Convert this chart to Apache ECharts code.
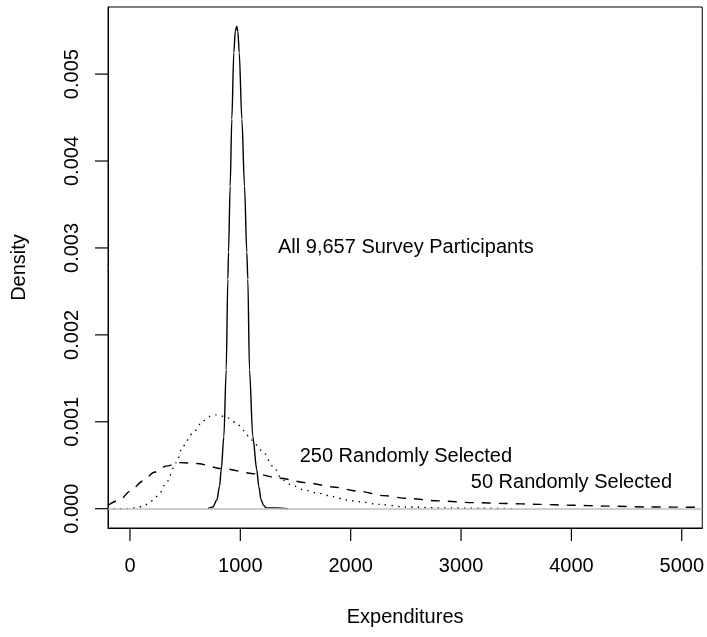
<!DOCTYPE html>
<html>
<head>
<meta charset="utf-8">
<script src="https://cdn.jsdelivr.net/npm/echarts@6/dist/echarts.min.js"></script>
<style>
  html, body { margin: 0; padding: 0; background: #fff; }
  #chart { width: 707px; height: 637px; }
</style>
</head>
<body>
<div id="chart"></div>
<script>
// x ticks / y ticks
var xTicks = [0, 1000, 2000, 3000, 4000, 5000];
var yTicks = [0, 0.001, 0.002, 0.003, 0.004, 0.005];

// density of all 9,657 participants (solid)
var allParticipants = [
  [706, 0], [751, 0.00002], [787, 0.0001], [812, 0.00026], [827, 0.00045],
  [851, 0.00083], [872, 0.0016], [887, 0.00264], [893, 0.00295], [908, 0.00371],
  [923, 0.00448], [941, 0.00525], [955, 0.0055], [968, 0.00555], [978, 0.00549],
  [990, 0.00525], [1014, 0.00448], [1038, 0.00371], [1059, 0.00295], [1068, 0.00264],
  [1083, 0.0016], [1113, 0.00083], [1149, 0.00045], [1167, 0.00026], [1189, 0.0001],
  [1210, 0.00004], [1234, 0.00001], [1330, 0.00001], [1430, 0]
];

// 250 randomly selected (dotted)
var sample250 = [
  [-150, 0], [-50, 0], [60, 0.00001], [120, 0.00003], [179, 0.00007],
  [230, 0.00013], [270, 0.00018], [329, 0.0003], [420, 0.00053], [480, 0.00072],
  [570, 0.00087], [661, 0.00101], [720, 0.00106], [782, 0.00108], [860, 0.00106],
  [963, 0.00099], [1030, 0.0009], [1099, 0.00079], [1204, 0.00066], [1294, 0.00049],
  [1385, 0.00033], [1470, 0.00027], [1566, 0.00022], [1700, 0.00018], [1837, 0.00014],
  [1958, 0.0001], [2079, 0.00008], [2250, 0.00005], [2500, 0.00002], [2800, 0.00001],
  [3200, 0.000005], [3500, 0]
];

// 50 randomly selected (dashed)
var sample50 = [
  [-199, 0.00004], [-93, 0.0001], [0, 0.0002], [118, 0.00032], [220, 0.00042],
  [329, 0.00049], [450, 0.00053], [601, 0.00052], [842, 0.00046], [1144, 0.0004],
  [1355, 0.00035], [1596, 0.0003], [1837, 0.00025], [2079, 0.0002], [2300, 0.00015],
  [2501, 0.00012], [2800, 0.00009], [3104, 0.00007], [3400, 0.00006], [3708, 0.00005],
  [4000, 0.00004], [4311, 0.00003], [4700, 0.00002], [5186, 0.000015]
];

// text labels placed in data coordinates
var annoText = ['All 9,657 Survey Participants', '250 Randomly Selected', '50 Randomly Selected'];
var annoX = [2500, 2500, 4000];
var annoY = [0.003, 0.0006, 0.0003];

var xMin = -199, xMax = 5186;
var yMin = -0.000222, yMax = 0.005772;
var tickLen = 13;

var font = 'Liberation Sans, Arial, Helvetica, sans-serif';

var myChart = echarts.init(document.getElementById('chart'));

function curve(name, data, type) {
  return {
    name: name,
    type: 'line',
    data: data,
    showSymbol: false,
    symbol: 'none',
    smooth: 0.3,
    smoothMonotone: 'x',
    lineStyle: { color: '#000', width: 1.4, type: type }
  };
}

// outward tick marks, placed through the axes' own scales
function tickSeries(data, vertical) {
  return {
    type: 'custom',
    clip: false,
    silent: true,
    data: data,
    encode: { x: 0, y: 1 },
    renderItem: function (params, api) {
      var p = api.coord([api.value(0), api.value(1)]);
      var shape = vertical
        ? { x1: p[0], y1: p[1], x2: p[0], y2: p[1] + tickLen }
        : { x1: p[0] - tickLen, y1: p[1], x2: p[0], y2: p[1] };
      return { type: 'line', shape: shape, style: { stroke: '#000', lineWidth: 1.2 } };
    }
  };
}

var xTickData = xTicks.map(function (t) { return [t, yMin]; });
var yTickData = yTicks.map(function (t) { return [xMin, t]; });

var annoData = [];
for (var i = 0; i < annoText.length; i++) {
  annoData.push({ value: [annoX[i], annoY[i]], label: { formatter: annoText[i] } });
}

var option = {
  animation: false,
  grid: { left: 108, top: 7, right: 4, bottom: 109, show: true, borderColor: '#000' },
  xAxis: {
    type: 'value',
    min: xMin, max: xMax,
    name: 'Expenditures',
    nameLocation: 'middle',
    nameGap: 79,
    nameTextStyle: { color: '#000', fontSize: 20, fontFamily: font },
    axisLine: { show: true, onZero: false, lineStyle: { color: '#000' } },
    splitLine: { show: false },
    axisTick: { show: false },
    axisLabel: {
      color: '#000', fontSize: 20, fontFamily: font, margin: 28, customValues: xTicks,
      formatter: function (v) { return String(v); }
    }
  },
  yAxis: {
    type: 'value',
    min: yMin, max: yMax,
    name: 'Density',
    nameLocation: 'middle',
    nameGap: 79,
    nameTextStyle: { color: '#000', fontSize: 20, fontFamily: font },
    axisLine: { show: true, onZero: false, lineStyle: { color: '#000' } },
    splitLine: { show: false },
    axisTick: { show: false },
    axisLabel: {
      color: '#000', fontSize: 20, fontFamily: font, margin: 26, rotate: 90,
      customValues: yTicks,
      formatter: function (v) { return v.toFixed(3); }
    }
  },
  series: [
    curve('All 9,657 Survey Participants', allParticipants, 'solid'),
    curve('250 Randomly Selected', sample250, [1.4, 5.2]),
    curve('50 Randomly Selected', sample50, [9, 8]),
    {
      type: 'line',
      data: [],
      markLine: {
        silent: true,
        symbol: 'none',
        label: { show: false },
        lineStyle: { color: '#bebebe', width: 1.5, type: 'solid' },
        data: [{ yAxis: 0 }]
      }
    },
    tickSeries(xTickData, true),
    tickSeries(yTickData, false),
    {
      type: 'scatter',
      data: annoData,
      symbolSize: 1,
      itemStyle: { color: 'rgba(0,0,0,0)', opacity: 1 },
      label: { show: true, position: 'inside', color: '#000', fontSize: 20, fontFamily: font }
    }
  ]
};

myChart.setOption(option);
</script>
</body>
</html>
